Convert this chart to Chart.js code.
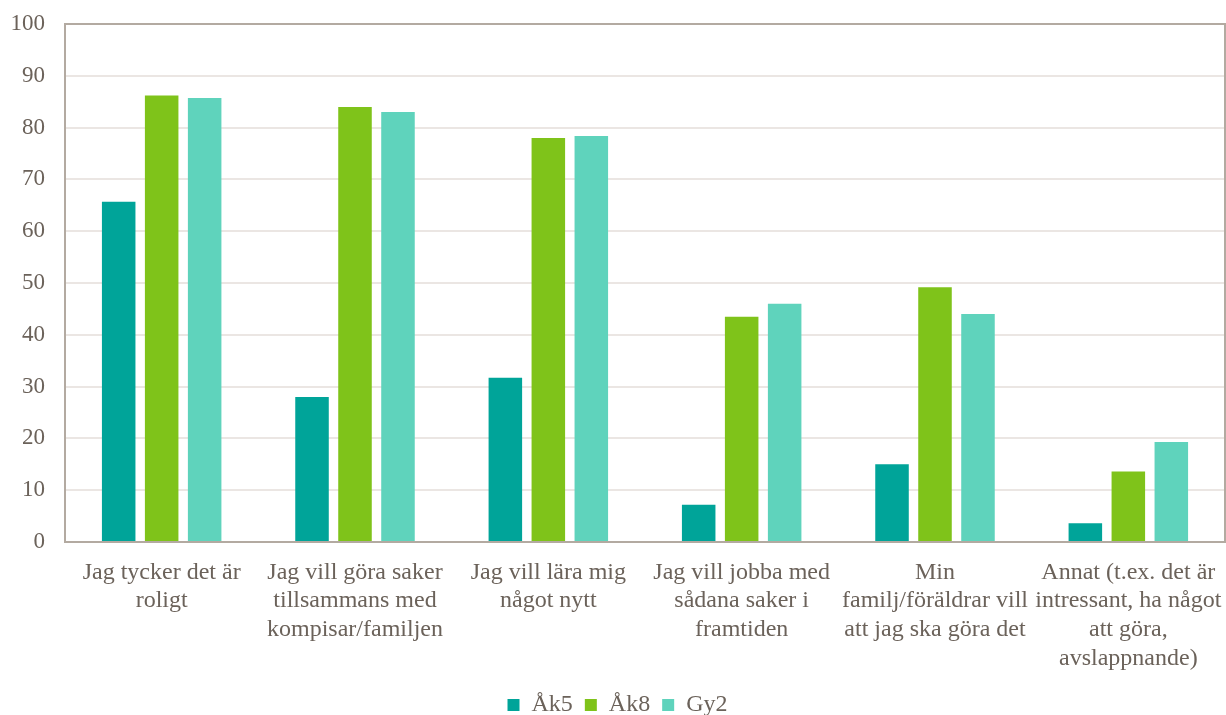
<!DOCTYPE html>
<html lang="sv">
    <head>
        <meta charset="UTF-8" />
        <title>Skäl</title>
        <script src="https://cdn.jsdelivr.net/npm/chart.js"></script>
        <style>
            body {
                margin: 0;
                background: #ffffff;
            }
            .wrap {
                width: 1226px;
                height: 715px;
            }
        </style>
    </head>
    <body>
        <div class="wrap"><canvas id="chart"></canvas></div>

        <script>
	const categories = [
		['Jag tycker det är', 'roligt'],
		['Jag vill göra saker', 'tillsammans med', 'kompisar/familjen'],
		['Jag vill lära mig', 'något nytt'],
		['Jag vill jobba med', 'sådana saker i', 'framtiden'],
		['Min', 'familj/föräldrar vill', 'att jag ska göra det'],
		['Annat (t.ex. det är', 'intressant, ha något', 'att göra,', 'avslappnande)']
	];
	const ak5 = [65.7, 28.0, 31.7, 7.2, 15.0, 3.6];
	const ak8 = [86.2, 84.0, 78.0, 43.5, 49.2, 13.6];
	const gy2 = [85.7, 83.0, 78.4, 46.0, 44.0, 19.3];
	const yTicks = [0, 10, 20, 30, 40, 50, 60, 70, 80, 90, 100];

	const textColor = '#6b625a';
	const axisColor = '#b3aaa1';

	// ram runt hela ritytan
	const frame = {
		id: 'frame',
		afterDatasetsDraw(chart) {
			const a = chart.chartArea;
			const ctx = chart.ctx;
			ctx.save();
			ctx.strokeStyle = axisColor;
			ctx.lineWidth = 2;
			ctx.strokeRect(a.left, a.top, a.right - a.left, a.bottom - a.top);
			ctx.restore();
		}
	};

	const family = "'Liberation Serif', 'Times New Roman', serif";

	new Chart(document.getElementById('chart'), {
		type: 'bar',
		data: {
			labels: categories,
			datasets: [
				{label: 'Åk5', data: ak5, backgroundColor: '#00a499'},
				{label: 'Åk8', data: ak8, backgroundColor: '#7fc31a'},
				{label: 'Gy2', data: gy2, backgroundColor: '#5fd3bc'}
			]
		},
		options: {
			responsive: true,
			maintainAspectRatio: false,
			animation: false,
			layout: {padding: {top: 0, right: 1, left: 10, bottom: -12}},
			datasets: {
				bar: {categoryPercentage: 0.667, barPercentage: 0.78}
			},
			scales: {
				x: {
					grid: {display: false, drawTicks: false},
					border: {display: false},
					afterFit: s => {
						s.paddingLeft = 0;
						s.paddingRight = 0;
						s.height = 139;
					},
					ticks: {
						color: textColor,
						font: {family, size: 24, lineHeight: 1.2},
						padding: 16,
						maxRotation: 0,
						autoSkip: false
					}
				},
				y: {
					min: 0,
					max: 100,
					afterBuildTicks: axis => {
						axis.ticks = yTicks.map(v => ({value: v}));
					},
					afterFit: s => {
						s.paddingTop = 24;
						s.width = 55;
					},
					grid: {color: '#ebe6e3', lineWidth: 2, drawTicks: false},
					border: {display: false},
					ticks: {color: textColor, font: {family, size: 23}, padding: 20}
				}
			},
			plugins: {
				legend: {
					position: 'bottom',
					labels: {
						color: textColor,
						font: {family, size: 24},
						boxWidth: 12,
						boxHeight: 12,
						padding: 12
					}
				},
				tooltip: {enabled: false}
			}
		},
		plugins: [frame]
	});
        </script>
    </body>
</html>
